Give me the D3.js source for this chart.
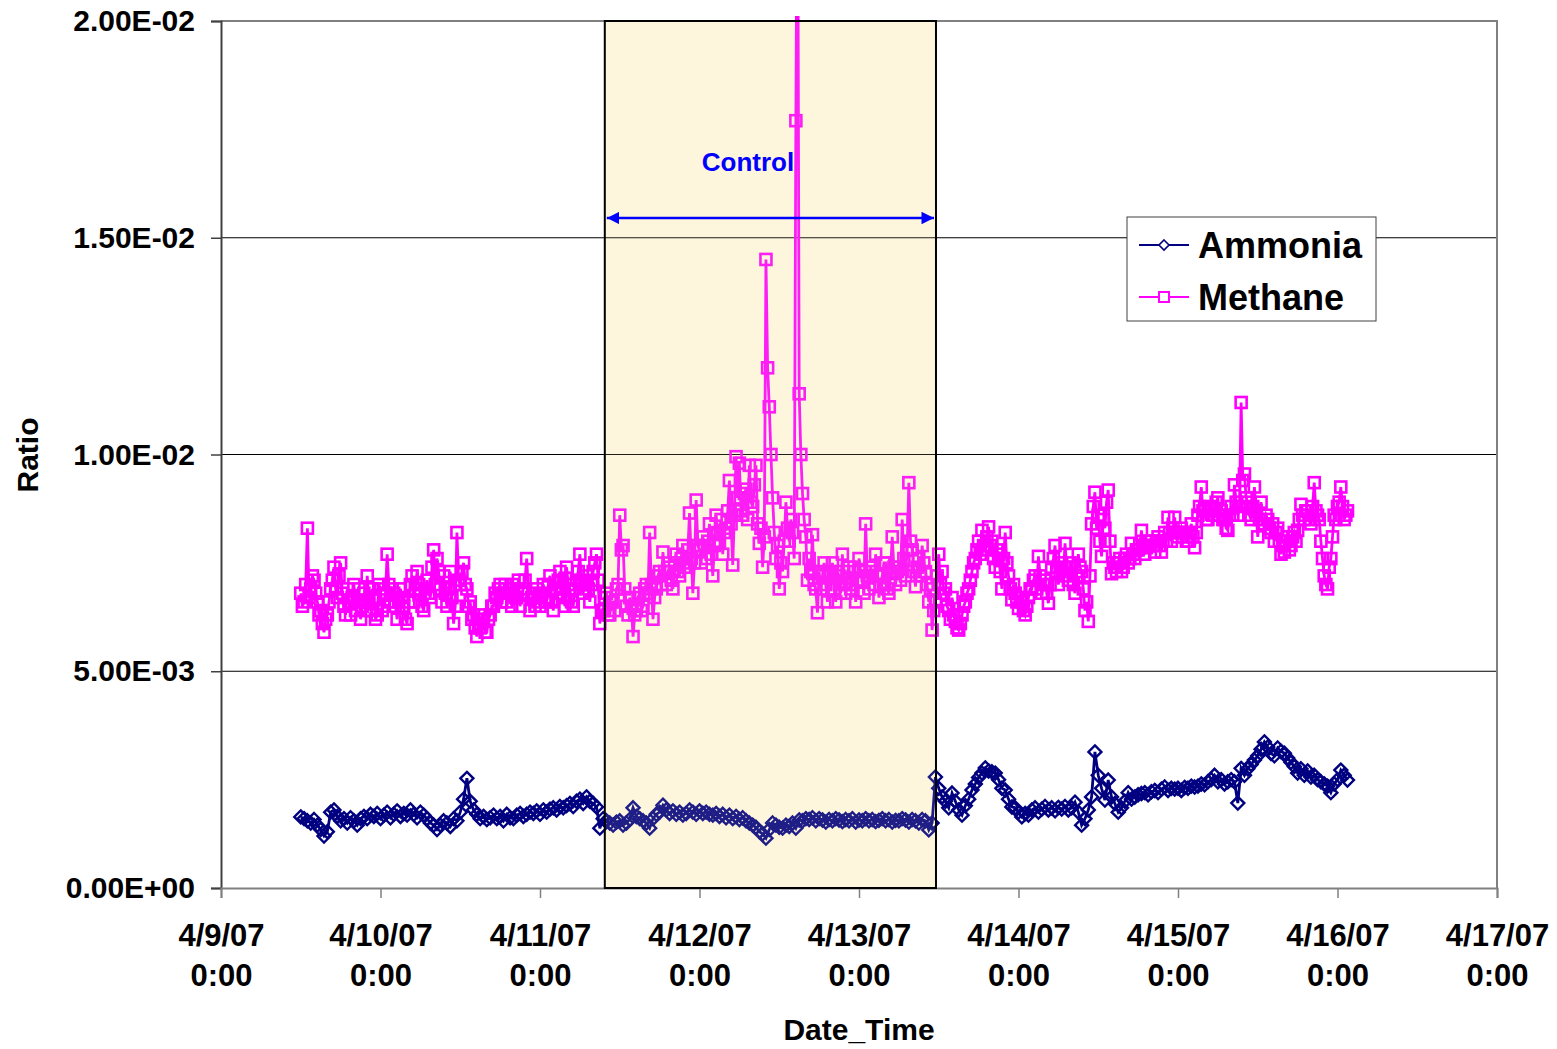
<!DOCTYPE html>
<html>
<head>
<meta charset="utf-8">
<script src="https://cdn.jsdelivr.net/npm/d3@7"></script>
<style>
  body { margin: 0; background: #fff; }
  text { font-family: "Liberation Sans", Arial, sans-serif; font-weight: bold; }
</style>
</head>
<body>
<div id="chart"></div>
<script>
// values in units of 1e-3; both series start 4/9/07 12:00
var startTime = new Date(2007, 3, 9, 12, 0);
var methaneStep = 15;   // minutes
var ammoniaStep = 30;   // minutes

var methane = [
  6.8, 6.5, 6.6, 7.0, 8.3, 6.7, 6.9, 7.2, 7.1, 6.8, 6.6, 6.3, 6.4, 6.1, 5.9, 6.2, 6.3, 6.6, 6.9, 7.1,
  7.4, 6.9, 6.7, 7.2, 7.5, 6.8, 6.5, 6.3, 6.9, 6.6, 6.3, 6.7, 7.0, 6.4, 6.6, 6.9, 6.2, 6.5, 6.8, 6.4,
  7.2, 6.6, 6.4, 6.9, 6.7, 6.2, 6.3, 7.0, 6.9, 6.4, 6.5, 6.8, 7.7, 7.0, 6.6, 6.9, 6.8, 6.5, 6.2, 6.6,
  6.9, 6.7, 6.5, 6.2, 6.1, 6.6, 7.0, 7.2, 6.6, 6.9, 7.3, 7.0, 6.8, 6.5, 6.4, 6.9, 7.1, 6.8, 6.7, 7.4,
  7.8, 7.0, 7.6, 7.3, 6.9, 6.6, 7.2, 6.8, 6.5, 6.9, 7.3, 6.7, 6.1, 6.5, 8.2, 7.1, 7.0, 7.3, 7.5, 7.0,
  6.9, 6.5, 6.6, 6.2, 6.3, 6.0, 5.8, 6.1, 6.0, 6.3, 6.2, 5.9, 5.9, 6.2, 6.3, 6.5, 6.5, 6.8, 6.7, 6.9,
  7.0, 6.6, 6.8, 7.0, 6.6, 6.8, 6.9, 6.5, 7.0, 6.7, 6.7, 7.1, 6.5, 6.8, 6.9, 7.1, 7.6, 6.8, 6.4, 6.7,
  6.7, 6.5, 6.9, 6.6, 6.5, 6.8, 7.0, 6.7, 6.6, 7.0, 7.2, 6.6, 6.4, 6.9, 6.8, 7.1, 7.3, 6.9, 6.7, 6.5,
  7.4, 7.0, 6.9, 6.6, 6.5, 6.9, 7.1, 7.3, 7.7, 7.0, 6.8, 7.1, 7.2, 6.9, 6.6, 7.0, 7.3, 7.5, 7.7, 7.1,
  6.1, 6.4, 6.4, 6.7, 6.8, 6.3, 6.3, 6.6, 6.6, 6.4, 6.9, 7.0, 8.6, 7.8, 7.9, 6.9, 6.5, 6.3, 6.7, 6.5,
  5.8, 6.3, 6.4, 6.7, 6.8, 6.4, 6.5, 6.9, 7.0, 6.8, 8.2, 7.0, 6.2, 6.7, 6.9, 7.2, 7.3, 7.0, 7.75, 7.3,
  7.0, 7.3, 7.4, 7.1, 6.9, 7.5, 7.7, 7.3, 7.2, 7.6, 7.9, 7.4, 7.5, 7.8, 8.65, 7.6, 6.8, 7.5, 8.95, 7.9,
  7.8, 7.5, 8.1, 7.9, 7.6, 8.0, 8.4, 7.7, 7.2, 7.9, 8.6, 8.2, 8.0, 8.5, 7.7, 8.2, 8.3, 8.7, 9.4, 8.4,
  7.45, 8.6, 9.95, 9.0, 9.8, 8.7, 8.6, 9.1, 9.2, 8.5, 9.75, 8.9, 8.8, 9.3, 9.75, 8.4, 7.95, 8.3, 7.4, 8.1,
  14.5, 12.0, 11.1, 10.0, 9.0, 8.2, 7.6, 7.9, 6.9, 7.5, 7.3, 8.0, 8.9, 8.3, 8.0, 8.5, 8.2, 7.6, 17.7, 25.0,
  11.4, 10.0, 9.1, 8.5, 8.1, 7.1, 7.6, 7.3, 8.15, 7.0, 6.9, 6.35, 7.3, 6.9, 7.2, 7.5, 7.0, 6.6, 7.3, 7.2,
  7.5, 6.9, 6.6, 7.3, 7.2, 6.8, 7.7, 7.0, 6.8, 7.3, 7.4, 6.9, 7.0, 7.4, 6.6, 7.1, 7.6, 7.3, 7.1, 6.8,
  8.4, 7.2, 6.9, 7.4, 7.3, 7.0, 7.7, 7.2, 6.7, 7.0, 7.2, 7.5, 7.5, 6.9, 6.8, 7.3, 8.1, 7.4, 7.0, 7.3,
  7.4, 7.1, 8.5, 7.6, 7.2, 7.8, 9.35, 8.0, 7.8, 7.3, 6.95, 7.4, 7.6, 7.2, 7.9, 7.5, 7.3, 7.0, 6.6, 6.9,
  5.95, 6.4, 6.6, 7.2, 7.7, 7.0, 7.3, 6.8, 6.9, 6.5, 6.4, 6.2, 6.7, 6.3, 6.15, 6.0, 5.95, 6.1, 6.3, 6.5,
  6.6, 6.8, 6.9, 7.1, 7.3, 7.5, 7.6, 7.8, 8.0, 7.7, 8.25, 7.9, 7.8, 8.1, 8.33, 7.9, 8.0, 7.6, 7.4, 7.8,
  7.7, 7.3, 6.9, 7.6, 8.2, 7.5, 7.2, 6.9, 6.65, 7.0, 6.8, 6.6, 6.45, 6.7, 6.6, 6.4, 6.3, 6.5, 6.7, 6.9,
  6.9, 7.1, 7.2, 6.9, 7.65, 7.2, 6.8, 7.0, 7.1, 6.8, 6.57, 7.0, 7.4, 7.6, 7.9, 7.3, 7.0, 7.3, 7.5, 7.2,
  7.95, 7.4, 7.1, 7.5, 7.4, 7.0, 6.8, 7.2, 7.7, 7.4, 7.3, 6.9, 6.4, 6.6, 6.15, 7.2, 8.4, 8.8, 9.13, 8.3,
  8.6, 8.0, 7.65, 8.5, 8.3, 8.9, 9.18, 8.0, 7.25, 7.5, 7.4, 7.3, 7.5, 7.6, 7.3, 7.4, 7.6, 7.7, 7.5, 7.6,
  7.95, 7.7, 7.6, 7.8, 7.8, 7.9, 8.25, 7.9, 7.7, 7.85, 7.9, 8.0, 8.0, 7.9, 7.75, 8.0, 8.1, 7.9, 7.75, 8.0,
  8.2, 8.0, 8.55, 8.2, 8.0, 8.3, 8.55, 8.2, 8.1, 8.2, 8.3, 8.1, 8.2, 8.0, 8.0, 8.2, 8.4, 8.1, 7.85, 8.2,
  8.6, 8.8, 9.25, 8.7, 8.75, 8.5, 8.5, 8.7, 8.8, 8.6, 8.6, 8.9, 9.0, 8.6, 8.7, 8.5, 8.5, 8.3, 8.25, 8.6,
  8.8, 8.6, 9.3, 8.9, 8.6, 8.8, 11.2, 9.4, 9.55, 9.0, 8.9, 8.6, 8.5, 8.8, 9.25, 8.7, 8.1, 8.5, 8.9, 8.4,
  8.4, 8.6, 8.5, 8.3, 8.2, 8.4, 8.0, 8.2, 8.3, 8.0, 7.7, 7.9, 7.75, 8.0, 8.1, 7.8, 7.9, 8.1, 8.2, 8.0,
  8.25, 8.5, 8.85, 8.6, 8.5, 8.7, 8.7, 8.5, 8.4, 8.8, 9.35, 8.7, 8.6, 8.5, 8.0, 7.6, 7.2, 7.0, 6.9, 7.4,
  7.6, 8.1, 8.6, 8.5, 8.8, 8.9, 9.25, 8.8, 8.5, 8.6, 8.7
];

var ammonia = [
  1.64, 1.6, 1.55, 1.5, 1.58, 1.45, 1.35, 1.2, 1.3, 1.75,
  1.8, 1.65, 1.55, 1.6, 1.5, 1.62, 1.55, 1.45, 1.6, 1.65,
  1.6, 1.7, 1.65, 1.72, 1.6, 1.68, 1.75, 1.62, 1.7, 1.78,
  1.65, 1.72, 1.68, 1.8, 1.7, 1.62, 1.75, 1.68, 1.6, 1.5,
  1.45, 1.35, 1.45, 1.55, 1.5, 1.42, 1.6, 1.55, 1.75, 2.05,
  2.53, 2.0, 1.8, 1.7, 1.6, 1.65, 1.58, 1.62, 1.68, 1.6,
  1.65, 1.55, 1.7, 1.62, 1.6, 1.68, 1.72, 1.65, 1.7, 1.75,
  1.72, 1.78, 1.7, 1.8, 1.75, 1.82, 1.85, 1.8, 1.88, 1.85,
  1.9, 1.95, 1.88, 2.0, 2.05, 1.95, 2.1, 2.0, 1.95, 1.87,
  1.38, 1.6, 1.55, 1.5, 1.45, 1.52, 1.55, 1.45, 1.5, 1.58,
  1.85, 1.65, 1.6, 1.55, 1.5, 1.38, 1.6, 1.7, 1.75, 1.91,
  1.8, 1.72, 1.78, 1.7, 1.75, 1.68, 1.72, 1.8, 1.75, 1.7,
  1.78, 1.72, 1.75, 1.7, 1.68, 1.72, 1.65, 1.7, 1.62, 1.68,
  1.6, 1.65, 1.58, 1.62, 1.55, 1.5, 1.45, 1.4, 1.3, 1.25,
  1.15, 1.35, 1.5, 1.45, 1.4, 1.38, 1.45, 1.42, 1.5, 1.38,
  1.57, 1.55, 1.6, 1.58, 1.62, 1.55, 1.6, 1.57, 1.52, 1.58,
  1.55, 1.6, 1.57, 1.53, 1.58, 1.55, 1.6, 1.52, 1.57, 1.55,
  1.6, 1.55, 1.58, 1.53, 1.56, 1.6, 1.55, 1.58, 1.52, 1.56,
  1.55, 1.6, 1.57, 1.52, 1.58, 1.55, 1.5, 1.58, 1.55, 1.34,
  1.5, 2.56, 2.3, 2.1, 2.0, 1.85, 2.19, 2.0, 1.8, 1.68,
  1.9, 2.05, 2.26, 2.4, 2.55, 2.65, 2.77, 2.7, 2.68, 2.65,
  2.5, 2.3, 2.26, 2.05, 1.87, 1.85, 1.75, 1.64, 1.72, 1.68,
  1.8, 1.85, 1.75, 1.82, 1.88, 1.8, 1.85, 1.78, 1.86, 1.82,
  1.88, 1.8, 1.85, 1.98, 1.75, 1.45, 1.6, 1.8, 2.1, 3.14,
  2.6, 2.3, 2.03, 2.49, 2.1, 1.95, 1.75, 1.85, 2.0, 2.2,
  2.05, 2.1, 2.15, 2.18, 2.2, 2.15, 2.22, 2.25, 2.2, 2.28,
  2.33, 2.25, 2.3, 2.28, 2.3, 2.25, 2.32, 2.3, 2.35, 2.33,
  2.35, 2.4, 2.38, 2.45, 2.5, 2.6, 2.45, 2.5, 2.4, 2.45,
  2.5, 2.45, 1.96, 2.76, 2.6, 2.75, 2.85, 2.95, 3.05, 3.2,
  3.37, 3.25, 3.1, 3.05, 3.23, 3.15, 3.11, 3.0, 2.9, 2.8,
  2.65, 2.75, 2.6, 2.7, 2.56, 2.6, 2.5, 2.45, 2.4, 2.35,
  2.2, 2.4, 2.5, 2.72, 2.6, 2.49
];

var yTicks = [0, 5, 10, 15, 20];
var yTickLabels = ["0.00E+00", "5.00E-03", "1.00E-02", "1.50E-02", "2.00E-02"];
var xTickDays = [9, 10, 11, 12, 13, 14, 15, 16, 17];
var controlStart = new Date(2007, 3, 11, 9, 45);
var controlEnd = new Date(2007, 3, 13, 11, 35);

var W = 1557, H = 1049;
var margin = {top: 21, left: 221};
var width = 1497 - margin.left,
    height = 888 - margin.top;

var svg = d3.select("#chart")
  .append("svg")
    .attr("width", W)
    .attr("height", H);

var defs = svg.append("defs");

var g = svg.append("g")
    .attr("transform", "translate(" + margin.left + "," + margin.top + ")");

var x = d3.scaleTime()
  .domain([new Date(2007, 3, 9), new Date(2007, 3, 17)])
  .range([0, width]);

var y = d3.scaleLinear()
  .domain([0, 20])
  .range([height, 0]);

function timeAt(i, step) {
  return new Date(startTime.getTime() + i * step * 60000);
}

// control period background
g.append("rect")
  .attr("x", x(controlStart))
  .attr("y", 0)
  .attr("width", x(controlEnd) - x(controlStart))
  .attr("height", height)
  .attr("fill", "#fff8e4");

// grid lines
g.selectAll(".grid")
  .data(yTicks.slice(1, 4))
  .enter()
  .append("line")
    .attr("x1", 0)
    .attr("x2", width)
    .attr("y1", d => y(d))
    .attr("y2", d => y(d))
    .attr("stroke", "#000")
    .attr("stroke-width", 1);

// plot border (top/right)
g.append("path")
  .attr("d", "M0,0H" + width + "V" + height)
  .attr("fill", "none")
  .attr("stroke", "#808080")
  .attr("stroke-width", 2);

// axes
var yAxis = g.append("g")
  .call(d3.axisLeft(y).tickValues(yTicks).tickSize(10).tickFormat((d, i) => yTickLabels[i]));
yAxis.select(".domain").attr("stroke", "#404040").attr("stroke-width", 2);
yAxis.selectAll(".tick line").attr("stroke", "#404040").attr("stroke-width", 1.5);
yAxis.selectAll(".tick text")
  .attr("x", -26)
  .attr("font-size", 30)
  .attr("font-family", "Liberation Sans, Arial, sans-serif")
  .attr("font-weight", "bold")
  .attr("fill", "#000");

var xAxis = g.append("g")
  .attr("transform", "translate(0," + height + ")")
  .call(d3.axisBottom(x).tickValues(xTickDays.map(d => new Date(2007, 3, d))).tickSize(10).tickFormat(""));
xAxis.select(".domain").attr("stroke", "#808080").attr("stroke-width", 2);
xAxis.selectAll(".tick line").attr("stroke", "#808080").attr("stroke-width", 1.5);
xAxis.selectAll(".tick").each(function(d) {
  var t = d3.select(this).append("text")
    .attr("fill", "#000")
    .attr("font-size", 31)
    .attr("text-anchor", "middle");
  t.append("tspan").attr("x", 0).attr("y", 58).text("4/" + d.getDate() + "/07");
  t.append("tspan").attr("x", 0).attr("y", 98).text("0:00");
});

// axis titles
svg.append("text")
  .attr("x", 859)
  .attr("y", 1040)
  .attr("text-anchor", "middle")
  .attr("font-size", 30)
  .text("Date_Time");

svg.append("text")
  .attr("transform", "translate(38,455) rotate(-90)")
  .attr("text-anchor", "middle")
  .attr("font-size", 30)
  .text("Ratio");

// clip for the series
defs.append("clipPath")
  .attr("id", "plotclip")
  .append("rect")
    .attr("x", 0).attr("y", -5)
    .attr("width", width).attr("height", height + 5);

var series = g.append("g").attr("clip-path", "url(#plotclip)");

function lineFor(step) {
  return d3.line()
    .x((d, i) => x(timeAt(i, step)))
    .y(d => y(d));
}

// methane
series.append("path")
  .datum(methane)
  .attr("fill", "none")
  .attr("stroke", "#ff00ff")
  .attr("stroke-width", 2.8)
  .attr("d", lineFor(methaneStep));

series.append("g")
  .selectAll("rect")
  .data(methane)
  .enter()
  .append("rect")
    .attr("x", (d, i) => x(timeAt(i, methaneStep)) - 5.5)
    .attr("y", d => y(d) - 5.5)
    .attr("width", 11)
    .attr("height", 11)
    .attr("fill", "none")
    .attr("stroke", "#ff00ff")
    .attr("stroke-width", 2.6);

// ammonia
series.append("path")
  .datum(ammonia)
  .attr("fill", "none")
  .attr("stroke", "#000080")
  .attr("stroke-width", 2.8)
  .attr("d", lineFor(ammoniaStep));

var diamond = "M0,-6.5L6.5,0L0,6.5L-6.5,0Z";
series.append("g")
  .selectAll("path")
  .data(ammonia)
  .enter()
  .append("path")
    .attr("d", diamond)
    .attr("transform", (d, i) => "translate(" + x(timeAt(i, ammoniaStep)) + "," + y(d) + ")")
    .attr("fill", "none")
    .attr("stroke", "#000080")
    .attr("stroke-width", 2.4);

// control box: light tint over data and border
g.append("rect")
  .attr("x", x(controlStart))
  .attr("y", 0)
  .attr("width", x(controlEnd) - x(controlStart))
  .attr("height", height)
  .attr("fill", "#f3e6b0")
  .attr("fill-opacity", 0.13)
  .attr("stroke", "#000")
  .attr("stroke-width", 2);

// control arrow
var arrowY = 218 - margin.top;
defs.append("marker")
  .attr("id", "arrowhead")
  .attr("viewBox", "0 0 10 10")
  .attr("refX", 10).attr("refY", 5)
  .attr("markerWidth", 5).attr("markerHeight", 5)
  .attr("markerUnits", "strokeWidth")
  .attr("orient", "auto-start-reverse")
  .append("path")
    .attr("d", "M0,0L10,5L0,10Z")
    .attr("fill", "#0000ff");

g.append("line")
  .attr("x1", x(controlStart) + 2)
  .attr("x2", x(controlEnd) - 2)
  .attr("y1", arrowY)
  .attr("y2", arrowY)
  .attr("stroke", "#0000ff")
  .attr("stroke-width", 2.5)
  .attr("marker-start", "url(#arrowhead)")
  .attr("marker-end", "url(#arrowhead)");

svg.append("text")
  .attr("x", 748)
  .attr("y", 171)
  .attr("text-anchor", "middle")
  .attr("font-size", 26)
  .attr("fill", "#0000ff")
  .text("Control");

// legend
var legend = svg.append("g").attr("transform", "translate(1127,217)");
legend.append("rect")
  .attr("width", 249)
  .attr("height", 104)
  .attr("fill", "#fff")
  .attr("stroke", "#404040")
  .attr("stroke-width", 1);

var legendItems = [
  {name: "Ammonia", color: "#000080", shape: "diamond"},
  {name: "Methane", color: "#ff00ff", shape: "square"}
];

legendItems.forEach(function(item, i) {
  var ly = 28 + i * 52;
  legend.append("line")
    .attr("x1", 12).attr("x2", 62)
    .attr("y1", ly).attr("y2", ly)
    .attr("stroke", item.color)
    .attr("stroke-width", 2);
  if (item.shape === "diamond") {
    legend.append("path")
      .attr("d", "M0,-5L5,0L0,5L-5,0Z")
      .attr("transform", "translate(37," + ly + ")")
      .attr("fill", "#fff")
      .attr("stroke", item.color)
      .attr("stroke-width", 1.6);
  } else {
    legend.append("rect")
      .attr("x", 37 - 5).attr("y", ly - 5)
      .attr("width", 10).attr("height", 10)
      .attr("fill", "#fff")
      .attr("stroke", item.color)
      .attr("stroke-width", 2);
  }
  legend.append("text")
    .attr("x", 71)
    .attr("y", ly + 13)
    .attr("font-size", 36)
    .attr("fill", "#000")
    .text(item.name);
});
</script>
</body>
</html>
